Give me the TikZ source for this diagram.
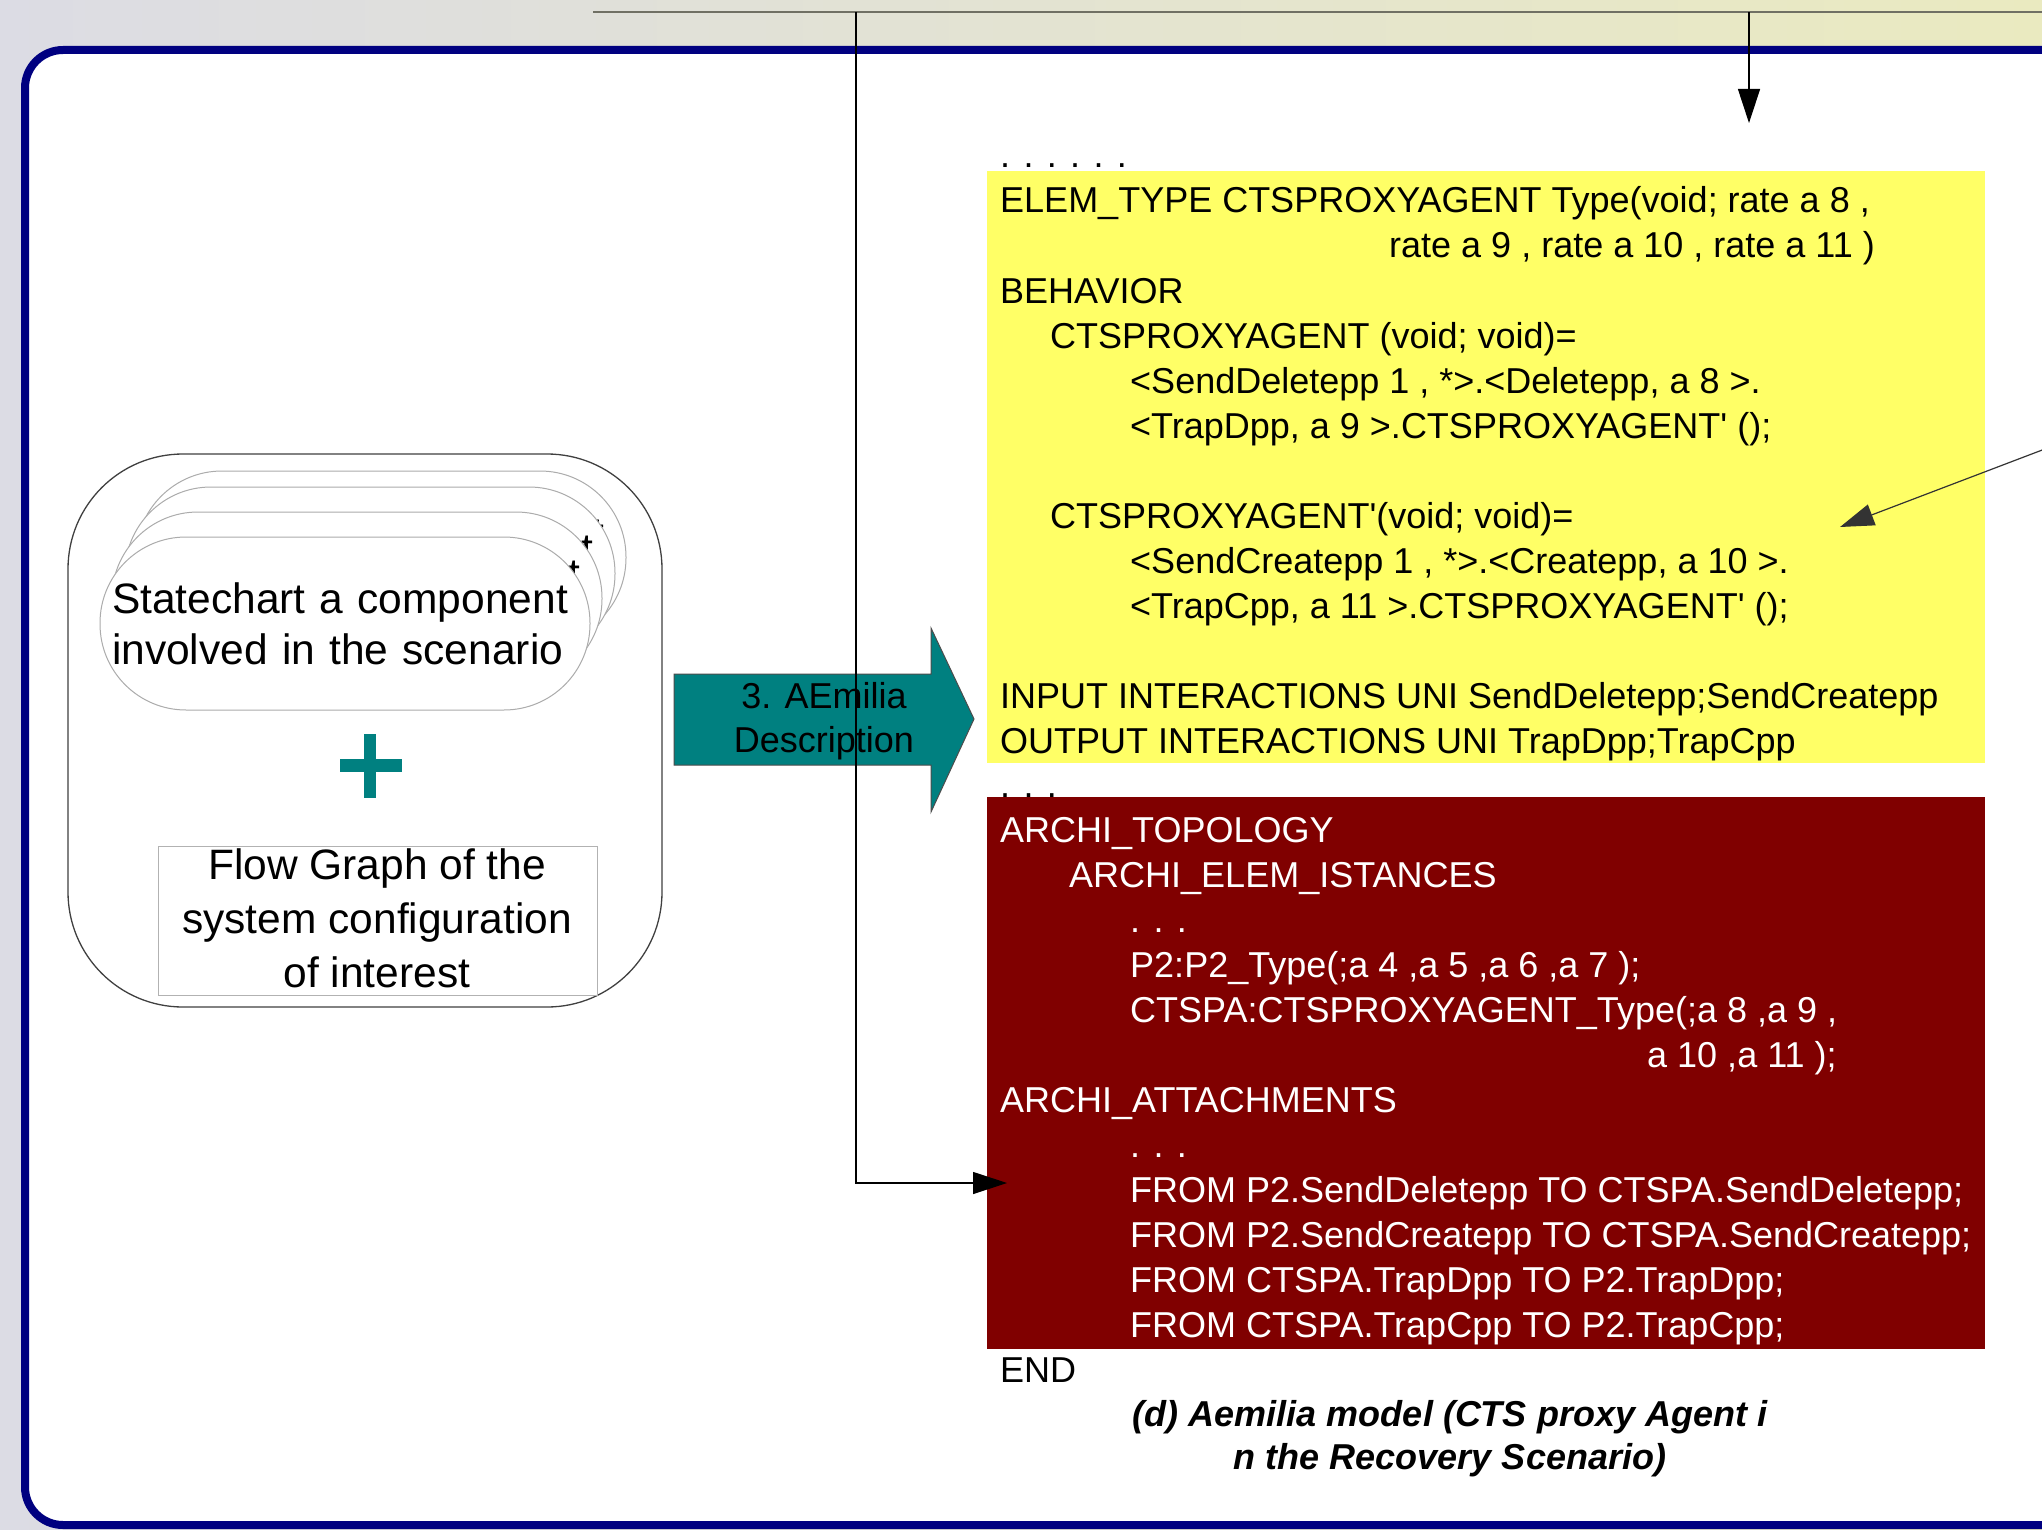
\documentclass[tikz,border=0pt]{standalone}
\usepackage{fontspec}
\setmainfont{Liberation Sans}
\usetikzlibrary{arrows.meta}

\definecolor{bgleft}{RGB}{220,220,228}
\definecolor{bgright}{RGB}{234,234,192}
\definecolor{framenavy}{RGB}{0,0,128}
\definecolor{codeyellow}{RGB}{255,255,102}
\definecolor{codemaroon}{RGB}{128,0,0}
\definecolor{tealfill}{RGB}{0,128,128}
\definecolor{topgray}{RGB}{112,112,100}

\newcommand\codesize{\fontsize{36pt}{45pt}\selectfont}
\newcommand\capsize{\fontsize{42.5pt}{51pt}\selectfont}
\newcommand\flowsize{\fontsize{42.5pt}{54pt}\selectfont}
\newcommand\stepsize{\fontsize{36pt}{44pt}\selectfont}
\newcommand\captionsize{\fontsize{36pt}{42pt}\selectfont\bfseries\itshape}
\newcommand\sq{\textquotesingle}

\begin{document}
\begin{tikzpicture}[x=1pt,y=-1pt,
  codeline/.style={anchor=base west, inner sep=0pt, font=\codesize, text=black},
  codewhite/.style={codeline, text=white},
  codebox/.style={draw=none, inner sep=0pt, anchor=north west},
  capsule/.style={draw=gray!65, line width=1pt, fill=white, rounded corners=86pt,
    minimum width=490pt, minimum height=173pt, inner sep=0pt, align=left,
    text width=466pt, font=\capsize},
  conn/.style={draw=black, line width=1.2pt},
  tip/.style={-{Triangle[length=34pt,width=22pt]}},
  captionline/.style={anchor=base, inner sep=0pt, font=\captionsize}]

\useasboundingbox (0,0) rectangle (2042,1530);
\clip (0,0) rectangle (2042,1530);

% slide background and frame
\shade[left color=bgleft, right color=bgright] (0,0) rectangle (2042,1530);
\draw[framenavy, line width=8pt, fill=white, rounded corners=38pt]
  (25,50) rectangle (2100,1525);

% left group: statecharts plus flow graph
\node[draw=black!75, line width=1.3pt, rounded corners=115pt,
      minimum width=594pt, minimum height=553pt, inner sep=0pt]
  (inputs) at (365,730.5) {};
\node[capsule] (sc4) at (381,557.5) {Statechart a component\\involved in the scenario};
\node[capsule] (sc3) at (370,573.5) {Statechart a component\\involved in the scenario};
\node[capsule] (sc2) at (357,598.5) {Statechart a component\\involved in the scenario};
\node[capsule] (sc1) at (345,623.5) {Statechart a component\\involved in the scenario};

\draw[tealfill, line width=13pt] (340,765) -- (402,765);
\draw[tealfill, line width=12pt] (370,734) -- (370,798);

\node[draw=gray!60, line width=1pt, minimum width=439pt, minimum height=149pt,
      inner sep=0pt] (flow) at (377.5,920.5) {};
\node[inner sep=0pt, align=center, font=\flowsize] (flowtext) at (377,918)
  {Flow Graph of the\\system configuration\\of interest};

% block arrow of the translation step
\draw[fill=tealfill, draw=black!70, line width=1pt]
  (674,674) -- (931,674) -- (931,628) -- (974,719) -- (931,812) -- (931,765)
  -- (674,765) -- cycle;
\node[inner sep=0pt, align=center, font=\stepsize] (steptext) at (824,721)
  {3. AEmilia\\Description};

% code boxes
\node[codebox, fill=codeyellow, minimum width=998pt, minimum height=592pt]
  (elem) at (987,171) {};
\node[codebox, fill=codemaroon, minimum width=998pt, minimum height=552pt]
  (archi) at (987,797) {};

\node[codeline] (y0) at (1000,168) {. . . . . .};
\node[codeline] (y1) at (1000,213) {ELEM\_TYPE CTSPROXYAGENT Type(void; rate a 8 ,};
\node[codeline] (y2) at (1389,258) {rate a 9 , rate a 10 , rate a 11 )};
\node[codeline] (y3) at (1000,303) {BEHAVIOR};
\node[codeline] (y4) at (1050,348) {CTSPROXYAGENT (void; void)=};
\node[codeline] (y5) at (1130,393) {<SendDeletepp 1 , *>.<Deletepp, a 8 >.};
\node[codeline] (y6) at (1130,438) {<TrapDpp, a 9 >.CTSPROXYAGENT\sq{} ();};
\node[codeline] (y7) at (1050,528) {CTSPROXYAGENT\sq(void; void)=};
\node[codeline] (y8) at (1130,573) {<SendCreatepp 1 , *>.<Createpp, a 10 >.};
\node[codeline] (y9) at (1130,618) {<TrapCpp, a 11 >.CTSPROXYAGENT\sq{} ();};
\node[codeline] (y10) at (1000,708) {INPUT INTERACTIONS UNI SendDeletepp;SendCreatepp};
\node[codeline] (y11) at (1000,753) {OUTPUT INTERACTIONS UNI TrapDpp;TrapCpp};
\node[codeline] (y12) at (1000,797) {. . .};

\node[codewhite] (r1) at (1000,842) {ARCHI\_TOPOLOGY};
\node[codewhite] (r2) at (1069,887) {ARCHI\_ELEM\_ISTANCES};
\node[codewhite] (r3) at (1130,932) {. . .};
\node[codewhite] (r4) at (1130,977) {P2:P2\_Type(;a 4 ,a 5 ,a 6 ,a 7 );};
\node[codewhite] (r5) at (1130,1022) {CTSPA:CTSPROXYAGENT\_Type(;a 8 ,a 9 ,};
\node[codewhite] (r6) at (1647,1067) {a 10 ,a 11 );};
\node[codewhite] (r7) at (1000,1112) {ARCHI\_ATTACHMENTS};
\node[codewhite] (r8) at (1130,1157) {. . .};
\node[codewhite] (r9) at (1130,1202) {FROM P2.SendDeletepp TO CTSPA.SendDeletepp;};
\node[codewhite] (r10) at (1130,1247) {FROM P2.SendCreatepp TO CTSPA.SendCreatepp;};
\node[codewhite] (r11) at (1130,1292) {FROM CTSPA.TrapDpp TO P2.TrapDpp;};
\node[codewhite] (r12) at (1130,1337) {FROM CTSPA.TrapCpp TO P2.TrapCpp;};
\node[codeline] (r13) at (1000,1382) {END};

\node[captionline] (cap1) at (1450,1426) {(d) Aemilia model (CTS proxy Agent i};
\node[captionline] (cap2) at (1450,1469) {n the Recovery Scenario)};

% connectors
\coordinate (topL) at (593,12);
\coordinate (topR) at (2100,12);
\coordinate (jA) at (856,12);
\coordinate (jB) at (1749,12);
\coordinate (tipA) at (1007,1183);
\coordinate (tipB) at (1749,123);
\coordinate (farC) at (2100,428);
\coordinate (tipC) at (1840,527);

\draw[topgray, line width=2pt] (topL) -- (topR);
\draw[conn, tip] (jA) |- (tipA);
\draw[conn, tip] (jB) -- (tipB);
\draw[conn, draw=black!80, tip] (farC) -- (tipC);

\end{tikzpicture}
\end{document}
